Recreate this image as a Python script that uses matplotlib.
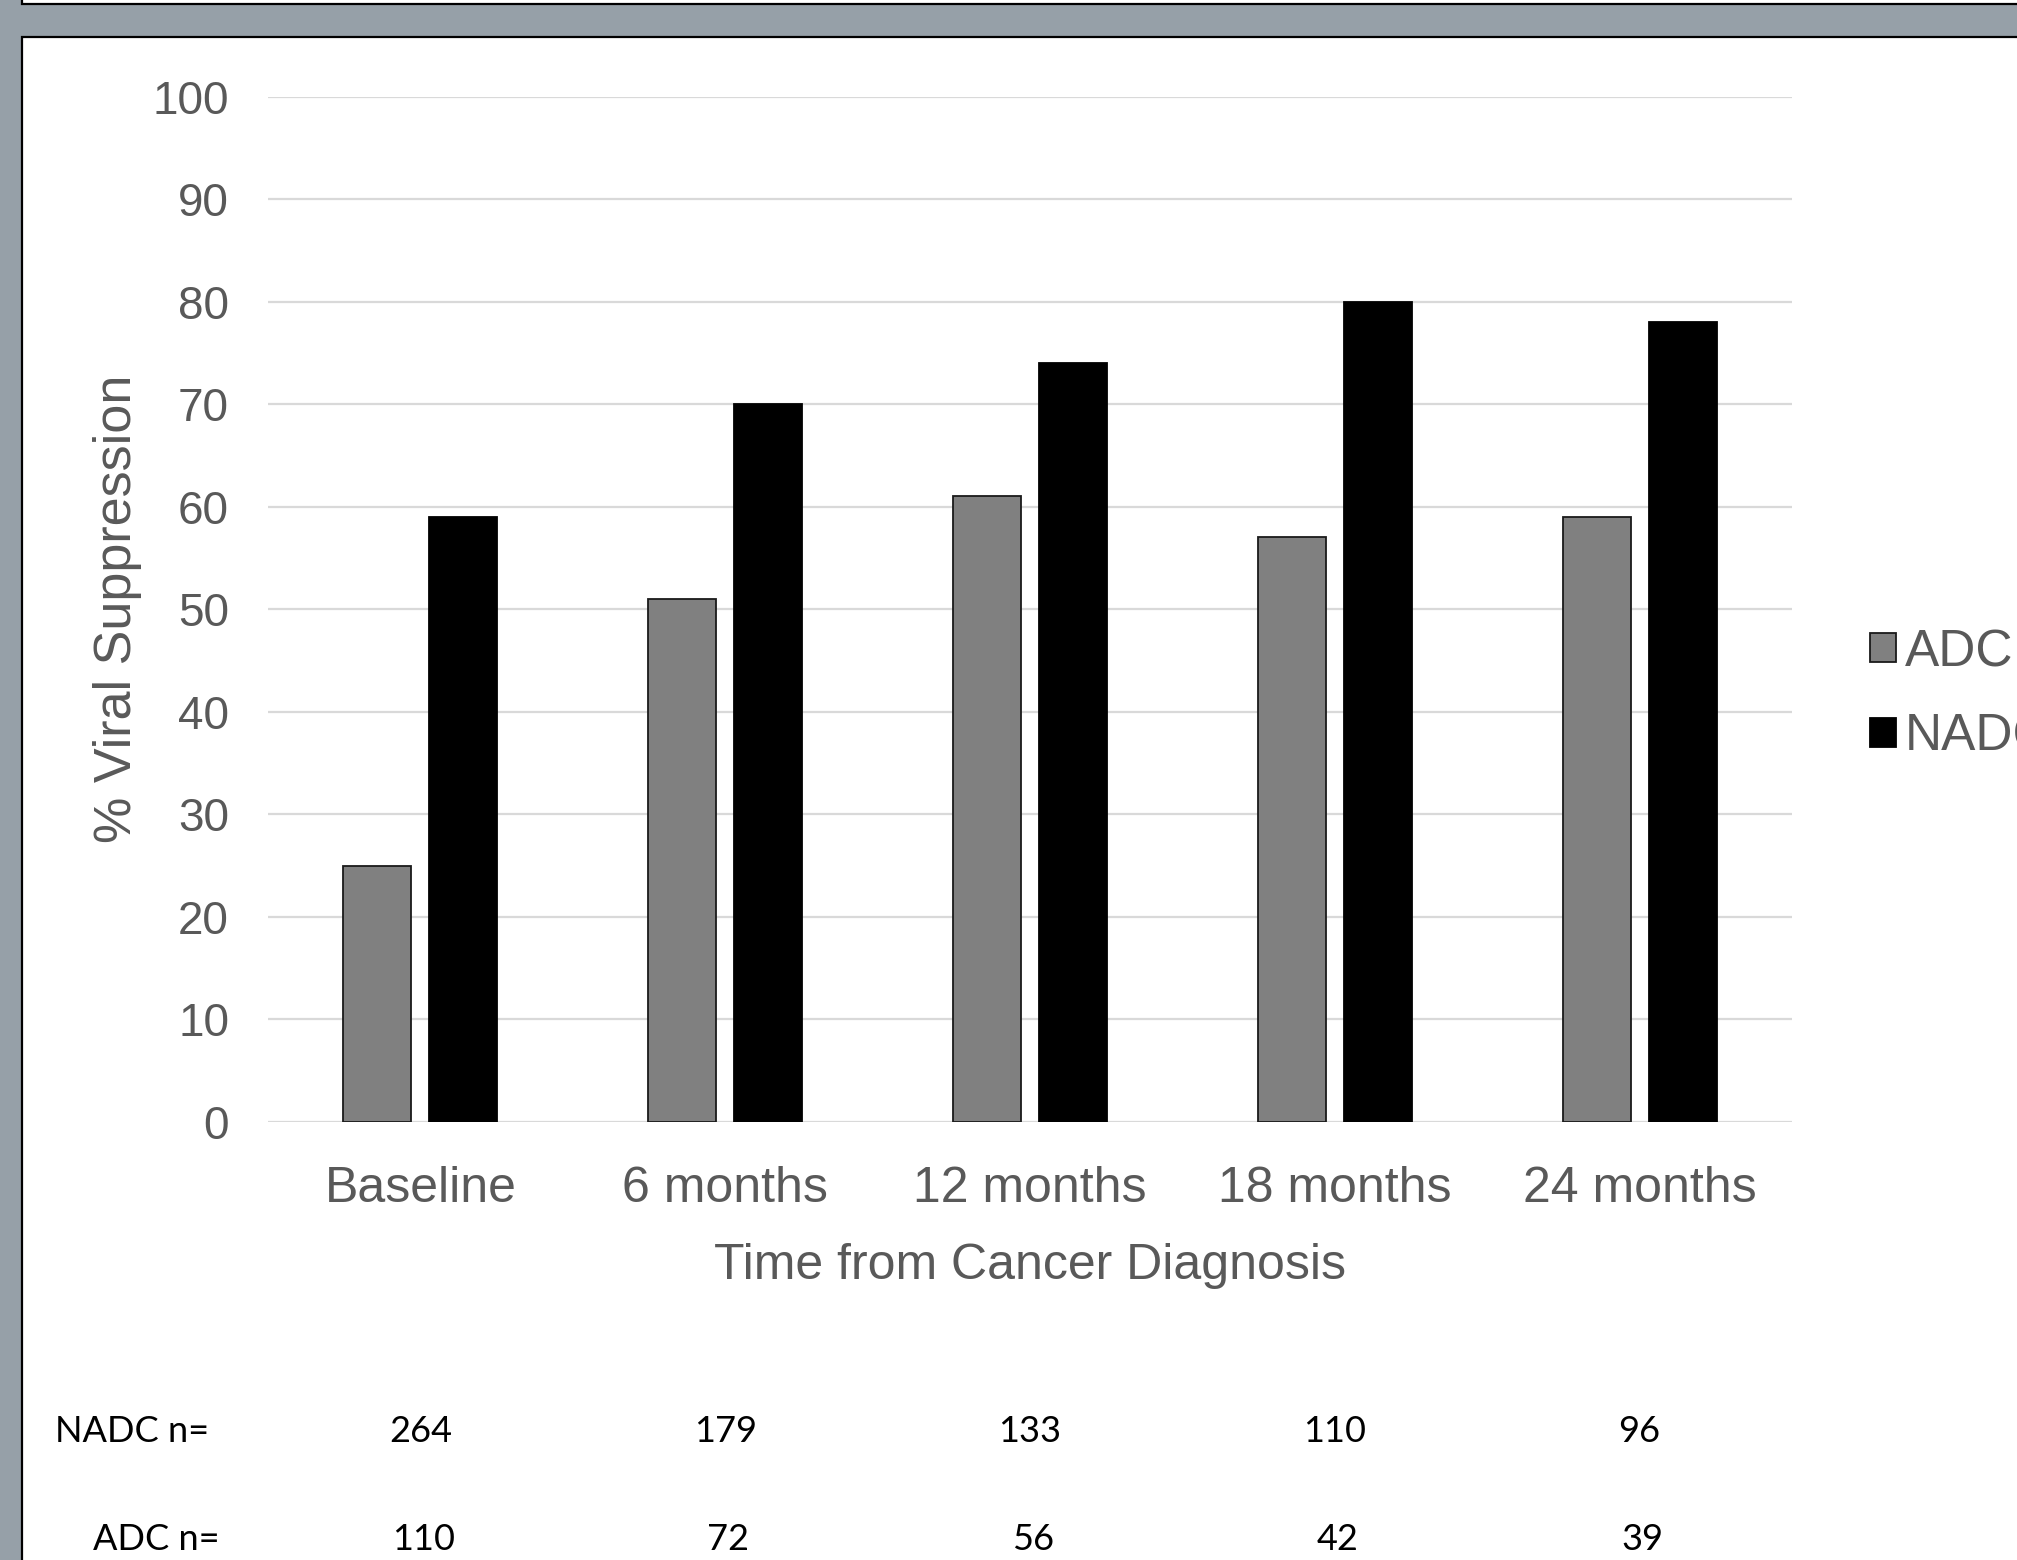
import matplotlib
matplotlib.use("Agg")
import matplotlib.pyplot as plt
from matplotlib.patches import Rectangle
from matplotlib.transforms import blended_transform_factory
import numpy as np

# Data
categories = ["Baseline", "6 months", "12 months", "18 months", "24 months"]
adc_pct = [25, 51, 61, 57, 59]
nadc_pct = [59, 70, 74, 80, 78]
nadc_n = ["264", "179", "133", "110", "96"]
adc_n = ["110", "72", "56", "42", "39"]
y_ticks = [0, 10, 20, 30, 40, 50, 60, 70, 80, 90, 100]

W, H = 2017, 1560
DPI = 100
TXT = "#595959"
plt.rcParams["font.family"] = ["Liberation Sans", "DejaVu Sans"]

fig = plt.figure(figsize=(W / DPI, H / DPI), dpi=DPI)
fig.patch.set_facecolor("#96a0a8")

def fx(px):
    return px / W

def fy(py):
    return 1 - py / H

# slide panels
fig.add_artist(Rectangle((fx(22), fy(H + 5)), fx(W), (H + 5 - 37) / H,
                         transform=fig.transFigure, facecolor="white",
                         edgecolor="black", linewidth=1.6, zorder=0))
fig.add_artist(Rectangle((fx(22), fy(4)), fx(W), 10 / H,
                         transform=fig.transFigure, facecolor="white",
                         edgecolor="black", linewidth=1.6, zorder=0))

ax = fig.add_axes([fx(268), fy(1122), fx(1792 - 268), (1122 - 96.5) / H])
ax.set_facecolor("white")

x = np.arange(len(categories))
bw = 0.223
gap = 0.059
off = (bw + gap) / 2
ax.bar(x - off, adc_pct, bw, color="#808080", edgecolor="#1a1a1a",
       linewidth=1.3, zorder=3, label="ADC")
ax.bar(x + off, nadc_pct, bw, color="black", edgecolor="black",
       linewidth=1.3, zorder=3, label="NADC")

ax.set_xlim(-0.5, len(categories) - 0.5)
ax.set_ylim(0, 100)
ax.set_yticks(y_ticks)
ax.set_xticks(x)
ax.set_xticklabels(categories)
ax.yaxis.grid(True, color="#d9d9d9", linewidth=1.6, zorder=0)
ax.set_axisbelow(True)
for s in ax.spines.values():
    s.set_visible(False)
ax.tick_params(axis="both", length=0, labelcolor=TXT)
ax.tick_params(axis="y", pad=28, labelsize=33)
ax.tick_params(axis="x", pad=32, labelsize=36)

ax.set_xlabel("Time from Cancer Diagnosis", fontsize=36, color=TXT, labelpad=22)
ax.set_ylabel("% Viral Suppression", fontsize=37.5, color=TXT, labelpad=8)

# legend
leg = fig.legend(loc="center left", bbox_to_anchor=(fx(1870), fy(695)),
                 frameon=False, fontsize=37, handlelength=0.5,
                 handleheight=0.5, handletextpad=0.18, labelspacing=0.7,
                 borderpad=0, borderaxespad=0)
for t in leg.get_texts():
    t.set_color(TXT)

# sample size rows
tr = blended_transform_factory(ax.transData, fig.transFigure)
tab_font = ["Lato", "DejaVu Sans"]
TAB_SIZE = 26
row1_y, row2_y = fy(1431), fy(1539)
fig.text(fx(55), row1_y, "NADC n=", fontsize=TAB_SIZE, family=tab_font,
         va="center", ha="left", color="black")
fig.text(fx(93), row2_y, "ADC n=", fontsize=TAB_SIZE, family=tab_font,
         va="center", ha="left", color="black")
for i in range(len(categories)):
    ax.text(x[i], row1_y, nadc_n[i], transform=tr, fontsize=TAB_SIZE,
            family=tab_font, ha="center", va="center", color="black",
            clip_on=False)
    ax.text(x[i] + 0.01, row2_y, adc_n[i], transform=tr, fontsize=TAB_SIZE,
            family=tab_font, ha="center", va="center", color="black",
            clip_on=False)

fig.savefig("out.png", dpi=DPI)
